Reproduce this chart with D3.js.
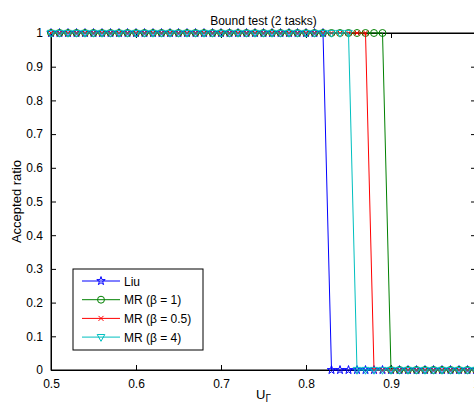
<!DOCTYPE html>
<html><head><meta charset="utf-8">
<script src="https://cdn.jsdelivr.net/npm/d3@7"></script>
<style>body{margin:0;background:#fff;} svg{display:block;font-family:"Liberation Sans",Arial,sans-serif;}</style>
</head><body>
<script>
const xValues = [0.50,0.51,0.52,0.53,0.54,0.55,0.56,0.57,0.58,0.59,0.60,0.61,0.62,0.63,0.64,0.65,0.66,0.67,0.68,0.69,0.70,0.71,0.72,0.73,0.74,0.75,0.76,0.77,0.78,0.79,0.80,0.81,0.82,0.83,0.84,0.85,0.86,0.87,0.88,0.89,0.90,0.91,0.92,0.93,0.94,0.95,0.96,0.97,0.98,0.99,1.00];
const liu    = [1,1,1,1,1,1,1,1,1,1, 1,1,1,1,1,1,1,1,1,1, 1,1,1,1,1,1,1,1,1,1, 1,1,1,0,0,0,0,0,0,0, 0,0,0,0,0,0,0,0,0,0, 0];
const mrB1   = [1,1,1,1,1,1,1,1,1,1, 1,1,1,1,1,1,1,1,1,1, 1,1,1,1,1,1,1,1,1,1, 1,1,1,1,1,1,1,1,1,1, 0,0,0,0,0,0,0,0,0,0, 0];
const mrB05  = [1,1,1,1,1,1,1,1,1,1, 1,1,1,1,1,1,1,1,1,1, 1,1,1,1,1,1,1,1,1,1, 1,1,1,1,1,1,1,1,0,0, 0,0,0,0,0,0,0,0,0,0, 0];
const mrB4   = [1,1,1,1,1,1,1,1,1,1, 1,1,1,1,1,1,1,1,1,1, 1,1,1,1,1,1,1,1,1,1, 1,1,1,1,1,1,0,0,0,0, 0,0,0,0,0,0,0,0,0,0, 0];
const seriesNames = ["Liu","MR (β = 1)","MR (β = 0.5)","MR (β = 4)"];
const seriesColors = ["#0000ff","#008000","#ff0000","#00bfbf"];
const seriesMarkers = ["star","circle","x","triDown"];
const seriesData = [liu, mrB1, mrB05, mrB4];
const xTicks = [0.5,0.6,0.7,0.8,0.9,1.0];
const yTicks = [0,0.1,0.2,0.3,0.4,0.5,0.6,0.7,0.8,0.9,1];
const titleText = "Bound test (2 tasks)";
const yLabel = "Accepted ratio";

const W = 474, H = 405;
const L = 51, R = 476, T = 33, B = 370;
const svg = d3.select("body").append("svg").attr("width", W).attr("height", H);
const x = d3.scaleLinear().domain([0.5,1]).range([L,R]);
const y = d3.scaleLinear().domain([0,1]).range([B,T]);

// box
svg.append("rect").attr("x",L).attr("y",T).attr("width",R-L).attr("height",B-T)
  .attr("fill","none").attr("stroke","#000").attr("stroke-width",1);

const fmt = d => d===0 ? "0" : d===1 ? "1" : d3.format(".1f")(d);
const tl = 5;
// bottom axis
const gx = svg.append("g").attr("transform",`translate(0,${B})`)
  .call(d3.axisBottom(x).tickValues(xTicks).tickFormat(fmt).tickSizeInner(-tl).tickSizeOuter(0).tickPadding(9));
// top axis
const gxt = svg.append("g").attr("transform",`translate(0,${T})`)
  .call(d3.axisTop(x).tickValues(xTicks).tickFormat("").tickSizeInner(-tl).tickSizeOuter(0));
// left axis
const gy = svg.append("g").attr("transform",`translate(${L},0)`)
  .call(d3.axisLeft(y).tickValues(yTicks).tickFormat(fmt).tickSizeInner(-tl).tickSizeOuter(0).tickPadding(8));
// right axis
const gyr = svg.append("g").attr("transform",`translate(${R},0)`)
  .call(d3.axisRight(y).tickValues(yTicks).tickFormat("").tickSizeInner(-tl).tickSizeOuter(0));
[gx,gxt,gy,gyr].forEach(g=>{
  g.select(".domain").attr("stroke","#000");
  g.selectAll(".tick line").attr("stroke","#000");
  g.selectAll("text").attr("font-size",12).attr("fill","#000").attr("font-family","Liberation Sans, Arial, sans-serif");
});

function markerPath(type){
  if(type==="star") return d3.symbol(d3.symbolStar, 22)();
  if(type==="circle") return d3.symbol(d3.symbolCircle, 38)();
  if(type==="x") return "M-2.5,-2.5L2.5,2.5M-2.5,2.5L2.5,-2.5";
  if(type==="triDown") return "M-3.8,-2.6L3.8,-2.6L0,4.2Z";
}

const plot = svg.append("g");
seriesData.forEach((vals,i)=>{
  const pts = xValues.map((xv,j)=>[xv, vals[j]]);
  plot.append("path").datum(pts)
    .attr("d", d3.line().x(d=>x(d[0])).y(d=>y(d[1])))
    .attr("fill","none").attr("stroke",seriesColors[i]).attr("stroke-width",1);
  plot.append("g").selectAll("path").data(pts).join("path")
    .attr("transform",d=>`translate(${x(d[0])},${y(d[1])})`)
    .attr("d", markerPath(seriesMarkers[i]))
    .attr("fill","none").attr("stroke",seriesColors[i]).attr("stroke-width",1);
});

// title
svg.append("text").attr("x",(L+R)/2).attr("y",25).attr("text-anchor","middle")
  .attr("font-size",12).text(titleText);
// y label
svg.append("text").attr("transform",`translate(21,${(T+B)/2}) rotate(-90)`).attr("text-anchor","middle")
  .attr("font-size",13).text(yLabel);
// x label
const xl = svg.append("text").attr("x",(L+R)/2).attr("y",399).attr("text-anchor","middle").attr("font-size",13);
xl.append("tspan").text("U");
xl.append("tspan").attr("dy",3).attr("font-size",10).text("Γ");

// legend
const lg = svg.append("g");
const lx = 73, ly = 269, lw = 130, lh = 81;
lg.append("rect").attr("x",lx).attr("y",ly).attr("width",lw).attr("height",lh)
  .attr("fill","#fff").attr("stroke","#000").attr("stroke-width",1);
seriesNames.forEach((name,i)=>{
  const yy = ly + 12 + i*18.7;
  lg.append("line").attr("x1",lx+9).attr("x2",lx+47).attr("y1",yy).attr("y2",yy)
    .attr("stroke",seriesColors[i]).attr("stroke-width",1);
  lg.append("path").attr("transform",`translate(${lx+28},${yy})`).attr("d",markerPath(seriesMarkers[i]))
    .attr("fill","none").attr("stroke",seriesColors[i]).attr("stroke-width",1);
  lg.append("text").attr("x",lx+51).attr("y",yy+4.5).attr("font-size",12).text(name);
});
</script>
</body></html>
